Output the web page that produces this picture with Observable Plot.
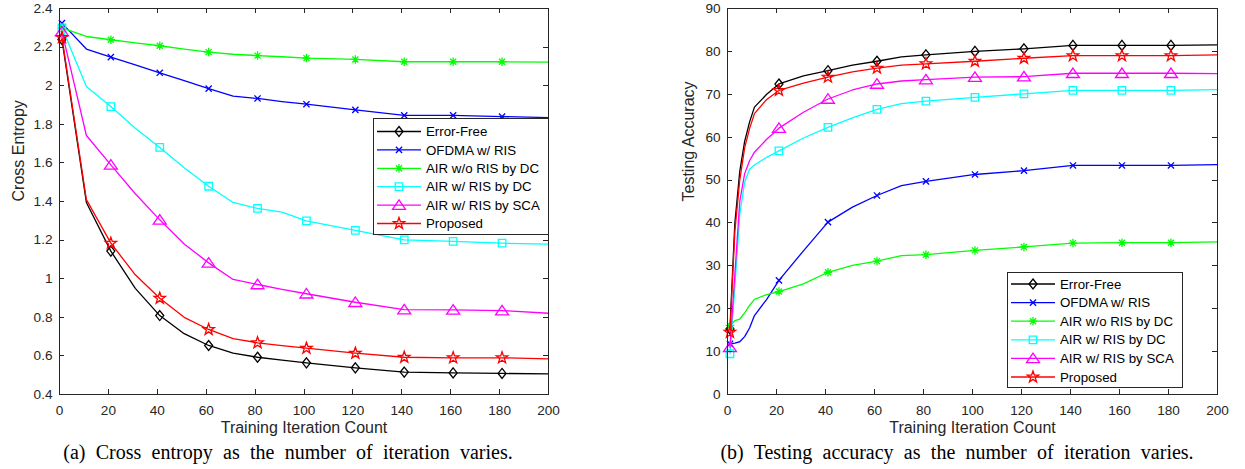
<!DOCTYPE html>
<html><head><meta charset="utf-8">
<script src="https://cdn.jsdelivr.net/npm/d3@7"></script>
<script src="https://cdn.jsdelivr.net/npm/@observablehq/plot@0.6"></script>
<style>
body{margin:0;background:#fff;width:1245px;height:469px;overflow:hidden;position:relative;font-family:"Liberation Sans",Arial,sans-serif;}
.panel{position:absolute;top:0;}
.caption{position:absolute;top:442px;font-family:"Liberation Serif","Times New Roman",serif;font-size:20px;line-height:20px;color:#000;white-space:nowrap;transform:translateX(-50%);word-spacing:5.3px;}
.legend{position:absolute;}
</style></head><body>
<div id="a" class="panel" style="left:0px"></div>
<div id="b" class="panel" style="left:620px"></div>
<div class="caption" style="left:288px">(a) Cross entropy as the number of iteration varies.</div>
<div class="caption" style="left:957px">(b) Testing accuracy as the number of iteration varies.</div>
<script>
// ---------- data ----------
const seriesNames = ["Error-Free","OFDMA w/ RIS","AIR w/o RIS by DC","AIR w/ RIS by DC","AIR w/ RIS by SCA","Proposed"];
const seriesColors = ["#000000","#0000ff","#00ff00","#00ffff","#ff00ff","#ff0000"];
const seriesSymbols = ["diamond","times","asterisk","square","triangle","pentagram"];

const xTicks = [0,20,40,60,80,100,120,140,160,180,200];
const ceTicks = [0.4,0.6,0.8,1,1.2,1.4,1.6,1.8,2,2.2,2.4];
const accTicks = [0,10,20,30,40,50,60,70,80,90];

// (a) cross entropy
const xA = [1,11,21,31,41,51,61,71,81,91,101,121,141,161,181,200];
const ceErrorFree = [2.24,1.395,1.143,0.95,0.809,0.715,0.654,0.614,0.593,0.578,0.564,0.538,0.516,0.512,0.509,0.507];
const ceOFDMA     = [2.324,2.19,2.148,2.108,2.067,2.026,1.985,1.946,1.934,1.918,1.904,1.875,1.846,1.846,1.84,1.835];
const ceAirNoRis  = [2.30,2.255,2.238,2.222,2.207,2.19,2.174,2.163,2.156,2.15,2.143,2.136,2.124,2.124,2.124,2.122];
const ceAirRisDC  = [2.30,1.996,1.892,1.78,1.68,1.575,1.479,1.395,1.364,1.345,1.30,1.25,1.201,1.193,1.184,1.179];
const ceAirRisSCA = [2.28,1.742,1.59,1.44,1.305,1.18,1.082,0.996,0.97,0.945,0.922,0.878,0.84,0.838,0.835,0.821];
const ceProposed  = [2.25,1.41,1.184,1.02,0.899,0.80,0.737,0.689,0.668,0.653,0.64,0.614,0.593,0.59,0.59,0.585];

// (b) testing accuracy
const xB = [1,3,5,7,9,11,16,21,31,41,51,61,71,81,101,121,141,161,181,200];
const accErrorFree = [15.3,40,52,59,63.5,67,70,72.4,74.3,75.5,76.8,77.7,78.7,79.2,80.0,80.6,81.4,81.4,81.4,81.5];
const accOFDMA     = [11.8,12,12.3,13.5,15.5,18.4,22.2,26.6,33.5,40.2,43.7,46.4,48.7,49.7,51.3,52.2,53.4,53.4,53.4,53.6];
const accAirNoRis  = [16.1,17.2,17.6,19,20.8,22.2,23.3,24.0,25.8,28.5,30.1,31.1,32.4,32.6,33.6,34.4,35.3,35.4,35.4,35.6];
const accAirRisDC  = [9.5,25,42,49.5,52.5,53.5,55.3,56.8,59.8,62.3,64.5,66.5,67.8,68.4,69.3,70.1,70.9,70.9,70.9,71.1];
const accAirRisSCA = [11,28,45,51.5,54.5,56.5,59.5,62.1,65.8,68.9,71,72.4,73.1,73.4,74.0,74.1,74.9,74.9,74.9,74.8];
const accProposed  = [14.5,38,50,57.5,62,65.5,68.8,70.9,72.6,74.0,75.2,76.1,76.8,77.1,77.7,78.4,79.0,79.0,79.0,79.2];

// ---------- symbols (MATLAB-like) ----------
const symbols = {
  diamond: {draw(c, s){const r=Math.sqrt(s/Math.PI); const h=r, w=r*0.8; c.moveTo(0,-h);c.lineTo(w,0);c.lineTo(0,h);c.lineTo(-w,0);c.closePath();}},
  times: {draw(c, s){const r=Math.sqrt(s/Math.PI)*0.62; c.moveTo(-r,-r);c.lineTo(r,r);c.moveTo(-r,r);c.lineTo(r,-r);}},
  asterisk: {draw(c, s){const r=Math.sqrt(s/Math.PI)*0.85; const d=r*0.707; c.moveTo(0,-r);c.lineTo(0,r);c.moveTo(-r,0);c.lineTo(r,0);c.moveTo(-d,-d);c.lineTo(d,d);c.moveTo(-d,d);c.lineTo(d,-d);}},
  square: {draw(c, s){const r=Math.sqrt(s/Math.PI)*0.75; c.moveTo(-r,-r);c.lineTo(r,-r);c.lineTo(r,r);c.lineTo(-r,r);c.closePath();}},
  triangle: {draw(c, s){const r=Math.sqrt(s/Math.PI); c.moveTo(0,-r*1.05);c.lineTo(r*1.3,r*0.85);c.lineTo(-r*1.3,r*0.85);c.closePath();}},
  pentagram: {draw(c, s){const R=Math.sqrt(s/Math.PI)*1.2, ri=R*0.4; for(let i=0;i<10;i++){const a=-Math.PI/2+i*Math.PI/5; const rr=i%2?ri:R; const px=rr*Math.cos(a), py=rr*Math.sin(a); if(i===0)c.moveTo(px,py); else c.lineTo(px,py);} c.closePath();}}
};

const axisColor = "#262626";

function panel(el, xs, seriesVals, yDomain, yTicks, yLabel, width, ml, mr, yTitleDx) {
  const height = 440, mt = 8, mb = 46;
  const marks = [];
  seriesVals.forEach((vals, si) => {
    const d = vals.map((v, i) => ({x: xs[i], y: v}));
    marks.push(Plot.line(d, {x: "x", y: "y", stroke: seriesColors[si], strokeWidth: 1.3}));
    marks.push(Plot.dot(d.filter(r => (r.x - 1) % 20 === 0 && r.x <= 181), {
      x: "x", y: "y", symbol: symbols[seriesSymbols[si]], r: 5,
      stroke: seriesColors[si], fill: "none", strokeWidth: 1.3
    }));
  });
  marks.push(Plot.frame({stroke: axisColor, strokeWidth: 1}));
  // inward ticks on all four sides
  marks.push((index, scales, values, dim) => {
    const g = d3.create("svg:g").attr("stroke", axisColor).attr("stroke-width", 1);
    const t = dim.marginTop, b = dim.height - dim.marginBottom, l = dim.marginLeft, r = dim.width - dim.marginRight;
    for (const v of xTicks) {
      const px = Math.round(scales.x(v)) + 0.5;
      g.append("line").attr("x1", px).attr("x2", px).attr("y1", b).attr("y2", b - 5);
      g.append("line").attr("x1", px).attr("x2", px).attr("y1", t).attr("y2", t + 5);
    }
    for (const v of yTicks) {
      const py = Math.round(scales.y(v)) + 0.5;
      g.append("line").attr("y1", py).attr("y2", py).attr("x1", l).attr("x2", l + 5);
      g.append("line").attr("y1", py).attr("y2", py).attr("x1", r).attr("x2", r - 5);
    }
    return g.node();
  });
  marks.push(Plot.axisX(xTicks, {anchor: "bottom", tickSize: 0, tickPadding: 11, label: null, fill: axisColor}));
  marks.push(Plot.axisY(yTicks, {anchor: "left", tickSize: 0, tickPadding: 7, label: null, fill: axisColor, tickFormat: d3.format("~g")}));
  marks.push(Plot.text(["Training Iteration Count"], {text: d => d, frameAnchor: "bottom", dy: 38, fontSize: 16, fill: axisColor}));
  marks.push(Plot.text([yLabel], {text: d => d, frameAnchor: "left", dx: yTitleDx, rotate: -90, fontSize: 16, fill: axisColor}));
  const chart = Plot.plot({
    width, height, marginTop: mt, marginBottom: mb, marginLeft: ml, marginRight: mr,
    x: {domain: [0, 200]},
    y: {domain: yDomain},
    style: {fontFamily: '"Liberation Sans", Arial, sans-serif', fontSize: "13.6px", background: "transparent", color: axisColor, overflow: "visible"},
    marks
  });
  document.getElementById(el).appendChild(chart);
}

function legend(left, top, w, h, padTop, step) {
  const svg = d3.select("body").append("svg").attr("class", "legend")
    .style("left", left + "px").style("top", top + "px")
    .attr("width", w + 1).attr("height", h + 1);
  svg.append("rect").attr("x", 0.5).attr("y", 0.5).attr("width", w).attr("height", h)
    .attr("fill", "#fff").attr("stroke", axisColor).attr("stroke-width", 1);
  seriesNames.forEach((name, i) => {
    const y = padTop + i * step;
    svg.append("line").attr("x1", 4).attr("x2", 48).attr("y1", y).attr("y2", y)
      .attr("stroke", seriesColors[i]).attr("stroke-width", 1.3);
    svg.append("path").attr("transform", `translate(26,${y})`)
      .attr("d", d3.symbol(symbols[seriesSymbols[i]], Math.PI * 25)())
      .attr("fill", "none").attr("stroke", seriesColors[i]).attr("stroke-width", 1.3);
    svg.append("text").attr("x", 53).attr("y", y).attr("dy", "0.35em")
      .attr("font-family", '"Liberation Sans", Arial, sans-serif').attr("font-size", 13.3)
      .attr("fill", "#000").text(name);
  });
}

panel("a", xA, [ceErrorFree, ceOFDMA, ceAirNoRis, ceAirRisDC, ceAirRisSCA, ceProposed],
  [0.4, 2.4], ceTicks, "Cross Entropy", 600, 59, 52, -41);
panel("b", xB, [accErrorFree, accOFDMA, accAirNoRis, accAirRisDC, accAirRisSCA, accProposed],
  [0, 90], accTicks, "Testing Accuracy", 625, 107, 28, -39);
legend(373, 118, 175, 116, 13.5, 18.4);
legend(1007, 272, 175, 115, 12, 18.6);
</script>
</body></html>
